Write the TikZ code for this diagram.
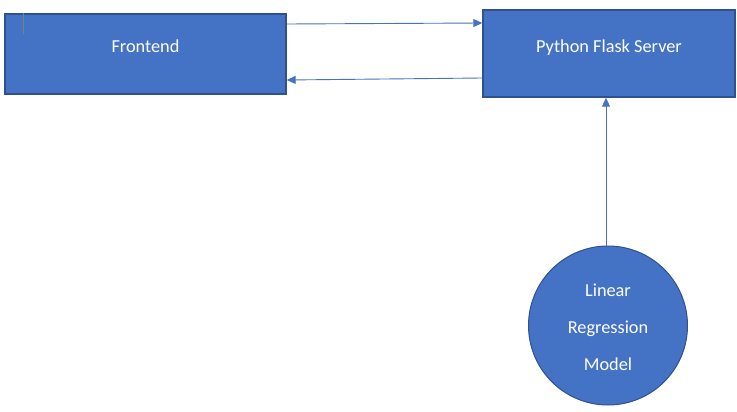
\documentclass[tikz,border=0pt]{standalone}
\usepackage{fontspec}
\setmainfont{Carlito}
\usetikzlibrary{arrows.meta}
\definecolor{boxfill}{HTML}{4472C4}
\definecolor{boxline}{HTML}{2F528F}
\definecolor{tickgray}{HTML}{7F7F7F}
\begin{document}
\begin{tikzpicture}[x=1pt,y=-1pt,
  blockbox/.style={draw=boxline,line width=1.4pt,fill=boxfill,text=white,
    font=\fontsize{18.3}{37}\selectfont,inner sep=0pt},
  conn/.style={draw=boxfill,line width=0.9pt,-{Triangle[length=9pt,width=8pt]}}]
\useasboundingbox (0,0) rectangle (737,412);
\node[blockbox,minimum width=281pt,minimum height=80pt,text height=10pt,text depth=13.4pt] (fe) at (145.5,54) {Frontend};
\node[blockbox,minimum width=252pt,minimum height=87pt,text height=10pt,text depth=12.4pt] (sv) at (609,53.5) {Python Flask Server};
\node[blockbox,circle,draw=boxline,line width=1pt,minimum size=159pt,align=center] (mdl) at (608,325.5) {\rule{0pt}{17pt}Linear\\Regression\\Model};
\draw[tickgray,line width=1.1pt] ([xshift=19.5pt]fe.north west) -- ([xshift=19.5pt,yshift=-21pt]fe.north west);
\draw[conn] ([yshift=30pt]fe.east) -- ([yshift=30.5pt]sv.west);
\draw[conn] ([yshift=-24.5pt]sv.west) -- ([yshift=-26pt]fe.east);
\draw[conn] ([xshift=-2pt]mdl.north) -- ([xshift=-2pt]mdl.north |- sv.south);
\end{tikzpicture}
\end{document}
